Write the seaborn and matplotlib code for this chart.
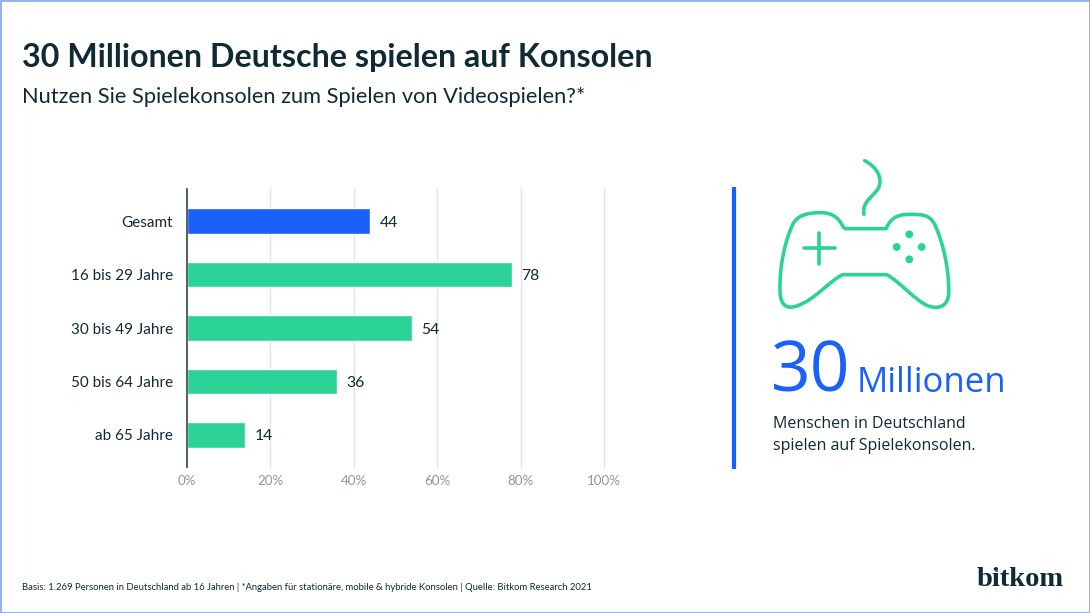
import matplotlib
matplotlib.use("Agg")
import matplotlib.pyplot as plt
from matplotlib.patches import PathPatch, Circle, Rectangle
from matplotlib.path import Path
import pandas as pd
import seaborn as sns

W, H = 1090, 613

categories = ["Gesamt", "16 bis 29 Jahre", "30 bis 49 Jahre", "50 bis 64 Jahre", "ab 65 Jahre"]
values = [44, 78, 54, 36, 14]
bar_colors = ["#1a60fa", "#2bd397", "#2bd397", "#2bd397", "#2bd397"]
xticks = [0, 20, 40, 60, 80, 100]
xticklabels = ["0%", "20%", "40%", "60%", "80%", "100%"]

DARK = "#0f2a35"
BLUE = "#1a60fa"
GREEN = "#2bd397"
GREY = "#8d979c"

sns.set_theme(style="white")
plt.rcParams["font.family"] = ["Lato", "DejaVu Sans"]

fig = plt.figure(figsize=(W / 100, H / 100), dpi=100, facecolor="white")
ax = fig.add_axes([187 / W, 1 - 467 / H, (604 - 187) / W, (467 - 189) / H])

df = pd.DataFrame({"group": categories, "share": values})
sns.barplot(data=df, y="group", x="share", hue="group", palette=bar_colors,
            width=0.48, legend=False, saturation=1, ax=ax, zorder=3)

ax.set_xlim(0, 100)
ax.set_ylim(4.6, -0.6)
ax.set_xlabel("")
ax.set_ylabel("")
ax.set_xticks(xticks)
ax.set_xticklabels(xticklabels, fontsize=9.6, color=GREY)
ax.tick_params(axis="y", length=0, pad=10, labelsize=11, labelcolor=DARK)
ax.tick_params(axis="x", length=0, pad=5.5)
for lab in ax.get_yticklabels():
    lab.set_verticalalignment("center_baseline")
ax.grid(axis="x", color="#dfe1e2", lw=1, clip_on=False)
ax.set_axisbelow(True)
sns.despine(ax=ax, top=True, right=True, bottom=True)
ax.spines["left"].set_color("#33474f")
ax.spines["left"].set_linewidth(1.2)
ax.spines["left"].set_zorder(5)

for i, v in enumerate(values):
    ax.annotate(str(v), (v, i), xytext=(6.5, 0), textcoords="offset points",
                va="center_baseline", ha="left", fontsize=11.3, color=DARK)

# overlay in pixel coords for the text blocks and the icon
ov = fig.add_axes([0, 0, 1, 1], zorder=10)
ov.set_xlim(0, W)
ov.set_ylim(H, 0)
ov.axis("off")
ov.patch.set_alpha(0)

ov.text(22, 57, "30 Millionen Deutsche spielen auf Konsolen", fontsize=23.2,
        fontweight="bold", color=DARK, va="center")
ov.text(22, 97, "Nutzen Sie Spielekonsolen zum Spielen von Videospielen?*", fontsize=15.7,
        color=DARK, va="center")
ov.text(22, 587, "Basis: 1.269 Personen in Deutschland ab 16 Jahren | *Angaben für stationäre, mobile & hybride Konsolen | Quelle: Bitkom Research 2021",
        fontsize=6.8, color=DARK, va="center")

ov.plot([733.5, 733.5], [187, 469], color=BLUE, lw=3, solid_capstyle="butt")

ov.text(771, 373.5, "30", fontsize=50, color=BLUE, va="center", family=["Open Sans"])
ov.text(857, 383, "Millionen", fontsize=25, color=BLUE, va="center", family=["Open Sans"])
ov.text(773, 424, "Menschen in Deutschland", fontsize=11.5, color=DARK, va="center", family=["Open Sans"])
ov.text(773, 446, "spielen auf Spielekonsolen.", fontsize=11.5, color=DARK, va="center", family=["Open Sans"])


def px(x, y):
    # icon sketch was measured on a 3x crop starting at (720, 150)
    return 720 + x / 3, 150 + y / 3


outline = [
    (Path.MOVETO, (372, 236)),
    (Path.LINETO, (498, 236)),
    (Path.CURVE4, (512, 205)), (Path.CURVE4, (530, 193)), (Path.CURVE4, (570, 193)),
    (Path.CURVE4, (610, 193)), (Path.CURVE4, (630, 195)), (Path.CURVE4, (645, 225)),
    (Path.CURVE4, (670, 280)), (Path.CURVE4, (688, 360)), (Path.CURVE4, (686, 430)),
    (Path.CURVE4, (685, 465)), (Path.CURVE4, (660, 480)), (Path.CURVE4, (625, 468)),
    (Path.CURVE4, (585, 452)), (Path.CURVE4, (540, 395)), (Path.CURVE4, (500, 374)),
    (Path.LINETO, (368, 374)),
    (Path.CURVE4, (325, 395)), (Path.CURVE4, (285, 450)), (Path.CURVE4, (230, 468)),
    (Path.CURVE4, (195, 480)), (Path.CURVE4, (180, 460)), (Path.CURVE4, (180, 420)),
    (Path.CURVE4, (178, 350)), (Path.CURVE4, (195, 270)), (Path.CURVE4, (220, 220)),
    (Path.CURVE4, (235, 193)), (Path.CURVE4, (270, 188)), (Path.CURVE4, (300, 188)),
    (Path.CURVE4, (345, 188)), (Path.CURVE4, (360, 210)), (Path.CURVE4, (372, 236)),
]
codes = [c for c, _ in outline]
verts = [px(*p) for _, p in outline]
ov.add_patch(PathPatch(Path(verts, codes), fc="none", ec=GREEN, lw=2.6, joinstyle="round"))

cable = [
    (Path.MOVETO, (434, 32)),
    (Path.CURVE4, (470, 50)), (Path.CURVE4, (490, 85)), (Path.CURVE4, (475, 115)),
    (Path.CURVE4, (460, 140)), (Path.CURVE4, (425, 155)), (Path.CURVE4, (432, 193)),
]
ov.add_patch(PathPatch(Path([px(*p) for _, p in cable], [c for c, _ in cable]),
                       fc="none", ec=GREEN, lw=2.6, capstyle="round"))

ov.plot(*zip(px(252, 295), px(344, 295)), color=GREEN, lw=2.6)
ov.plot(*zip(px(297, 250), px(297, 341)), color=GREEN, lw=2.6)
for cx, cy in [(568, 253), (530, 291), (605, 291), (568, 328)]:
    ov.add_patch(Circle(px(cx, cy), 3.9, color=GREEN, lw=0))

# logo
ov.text(977, 579, "bitkom", fontsize=20.5, fontweight="bold", color=DARK, va="center",
        family=["Liberation Serif"])
ov.add_patch(Circle((996.7, 570.7), 1.4, color=BLUE, lw=0, zorder=5))

# thin frame round the whole picture
ov.add_patch(Rectangle((0.5, 0.5), W - 1, H - 1, fc="none", ec="#7fa6e6", lw=1.2, clip_on=False))

fig.savefig("out.png", dpi=100)
